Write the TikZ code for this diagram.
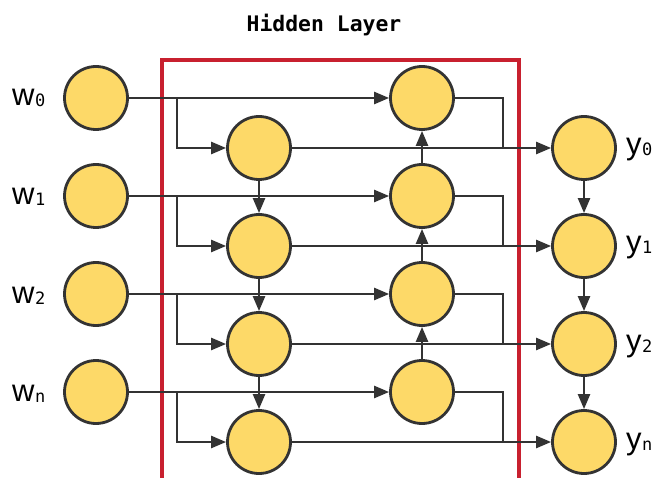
\documentclass[tikz,border=0pt]{standalone}
\usepackage{fontspec}
\usetikzlibrary{arrows.meta}
\newfontfamily\lblfont{Liberation Sans}
\newfontfamily\monofnt{DejaVu Sans Mono}
\newcommand\lblsub[1]{\kern0.5pt\raisebox{-1pt}{\fontsize{17}{17}\monofnt #1}}
\definecolor{nodefill}{HTML}{FDD968}
\definecolor{ink}{HTML}{333333}
\definecolor{layerred}{HTML}{C8202F}
\tikzset{
  unit/.style={circle, draw=ink, fill=nodefill, line width=2.8pt, minimum size=63pt, inner sep=0pt},
  link/.style={draw=ink, line width=2.4pt},
  flow/.style={link, -{Triangle[length=15pt,width=12pt]}},
  varlabel/.style={anchor=base west, inner sep=0pt, font=\fontsize{31}{31}\lblfont, text=black},
  titletext/.style={font=\fontsize{21.4}{22}\monofnt\bfseries, text=black}
}
\begin{document}
\begin{tikzpicture}[x=1pt,y=-1pt]
\useasboundingbox (0,0) rectangle (658,478);
\clip (0,0) rectangle (658,478);

% hidden layer frame
\draw[layerred, line width=3.5pt] (162,60) rectangle (519,520);
\node[titletext] (title) at (324,25) {Hidden Layer};

% inputs, forward units, backward units, outputs
\foreach \i/\r in {0/98,1/196,2/294,3/392}{
  \node[unit] (w\i) at (96,\r) {};
  \node[unit] (b\i) at (422,\r) {};
  \node[unit] (a\i) at (259,\r+50) {};
  \node[unit] (y\i) at (584,\r+50) {};
  \coordinate (br\i) at (177,\r);
  \coordinate (rt\i) at (503,\r);
  \coordinate (mg\i) at (503,\r+50);
}

% labels
\node[varlabel] (lw0) at (12,106) {w\lblsub{0}};
\node[varlabel] (lw1) at (12,205) {w\lblsub{1}};
\node[varlabel] (lw2) at (12,303) {w\lblsub{2}};
\node[varlabel] (lw3) at (12,401) {w\lblsub{n}};
\node[varlabel] (ly0) at (626,155) {y\lblsub{0}};
\node[varlabel] (ly1) at (626,253) {y\lblsub{1}};
\node[varlabel] (ly2) at (626,351) {y\lblsub{2}};
\node[varlabel] (ly3) at (626,449) {y\lblsub{n}};

\foreach \i in {0,1,2,3}{
  % input to backward unit, with branch to forward unit
  \draw[flow] (w\i) -- (b\i);
  \draw[flow] (br\i) |- (a\i);
  % forward unit to output
  \draw[flow] (a\i) -- (y\i);
  % backward unit merges into the output line
  \draw[link] (b\i.east) -- (rt\i) -- (mg\i);
}
\foreach \i/\j in {0/1,1/2,2/3}{
  \draw[flow] (a\i) -- (a\j);
  \draw[flow] (b\j) -- (b\i);
  \draw[flow] (y\i) -- (y\j);
}
\end{tikzpicture}
\end{document}
